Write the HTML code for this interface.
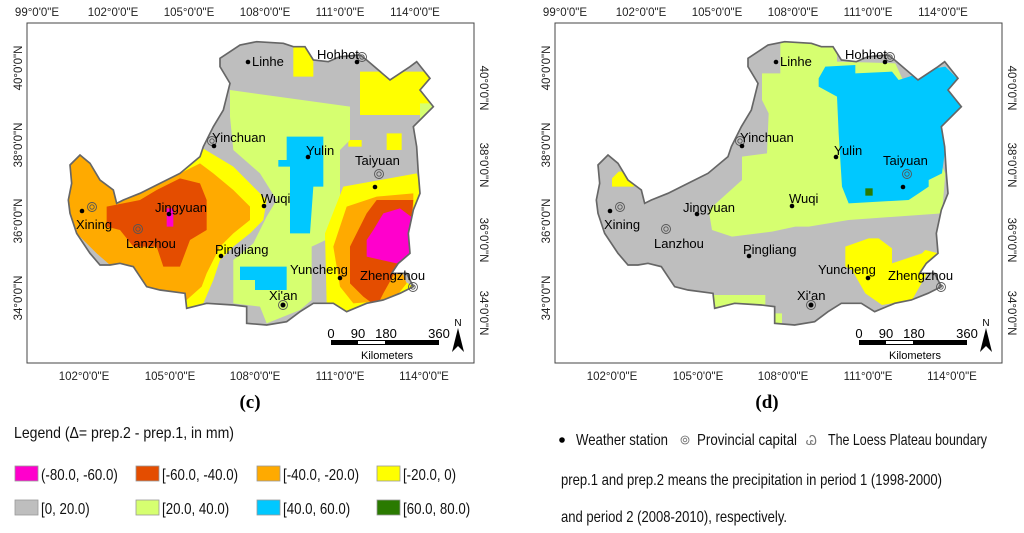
<!DOCTYPE html>
<html><head><meta charset="utf-8">
<style>
html,body{margin:0;padding:0;background:#fff;}
svg{display:block;font-family:"Liberation Sans",Arial,sans-serif;}
.tick{font-size:11.5px;fill:#222;}
.lbl{font-size:13px;fill:#000;}
.leg{font-size:16px;fill:#111;}
</style></head>
<body>
<svg id="fig" width="1024" height="533" viewBox="0 0 1024 533">
<defs>
  <clipPath id="cb1"><polygon id="bnd" points="660,175 720,135 770,125 850,130 880,140 915,140 940,180 985,185 1020,170 1080,165 1100,180 1170,240 1230,200 1250,185 1290,235 1260,270 1300,320 1240,380 1250,440 1255,520 1260,580 1240,630 1225,700 1230,760 1195,790 1175,820 1220,820 1240,860 1200,880 1150,900 1100,910 1040,935 1000,910 940,910 900,935 860,965 800,975 740,970 740,920 700,915 620,910 560,925 555,880 480,870 440,860 400,800 360,790 330,795 300,795 270,760 230,700 210,640 205,600 215,550 210,495 240,465 270,490 300,540 340,570 350,610 370,600 420,580 470,555 540,520 600,470 610,440 640,380 670,330 680,290 690,250 660,200"/></clipPath>
</defs>

<g>
  <rect x="27" y="23" width="447" height="340" fill="#fff" stroke="#444" stroke-width="1"/>
  <g transform="scale(0.33333)">
    <g clip-path="url(#cb1)">
      <rect x="150" y="100" width="1200" height="900" fill="#bebebe"/>
      <polygon fill="#ffff00" points="880,130 940,130 940,230 880,230"/>
      <polygon fill="#ffff00" points="1080,215 1300,215 1300,345 1080,345"/>
      <polygon fill="#ffff00" points="1045,420 1085,420 1085,440 1045,440"/>
      <polygon fill="#ffff00" points="1160,400 1205,400 1205,450 1160,450"/>
      <polygon fill="#d6ff70" points="690,270 1050,320 1050,420 1020,450 1020,700 935,740 935,900 900,930 800,970 780,920 700,910 700,780 760,730 800,650 830,600 780,520 700,450 690,350"/>
      <polygon fill="#d6ff70" points="1260,310 1300,310 1300,380 1260,380"/>
      <polygon fill="#00c8ff" points="860,410 970,410 970,560 940,560 930,700 870,700 870,500 835,500 835,480 860,480"/>
      <polygon fill="#00c8ff" points="720,800 860,800 860,870 765,870 765,840 720,840"/>
      <polygon fill="#ffff00" points="600,440 700,500 800,600 790,660 750,700 700,740 660,780 640,840 610,910 560,925 500,900 300,700 200,600 200,470"/>
      <polygon fill="#ffaa00" points="210,470 250,465 300,540 340,570 420,575 540,520 600,490 640,520 700,570 750,620 750,660 700,700 660,740 620,820 605,860 560,900 500,880 440,860 400,800 330,795 290,760 230,700 210,640 205,600"/>
      <polygon fill="#e44d00" points="320,620 420,600 470,570 540,535 600,550 620,600 620,690 570,720 540,800 490,800 470,740 400,740 360,690 320,680"/>
      <polygon fill="#ff00cc" points="500,625 520,625 520,680 500,680"/>
      <polygon fill="#ffff00" points="975,700 1030,560 1250,520 1270,580 1240,640 1230,760 1175,820 1240,860 1150,900 1040,935 980,910"/>
      <polygon fill="#ffaa00" points="1000,740 1040,620 1130,590 1240,580 1240,660 1200,800 1220,850 1180,900 1060,910 1020,860"/>
      <polygon fill="#e44d00" points="1050,740 1100,640 1130,600 1240,600 1230,700 1200,790 1150,880 1130,920 1090,890 1050,850"/>
      <polygon fill="#ff00cc" points="1120,690 1150,640 1200,625 1240,655 1235,760 1190,790 1100,770 1100,720"/>
    </g>
    <use href="#bnd" fill="none" stroke="#666" stroke-width="5"/>
  </g>
  <g id="stC"></g>
  <g class="tick" text-anchor="middle">
    <text x="37" y="16">99°0'0"E</text><text x="113" y="16">102°0'0"E</text><text x="189" y="16">105°0'0"E</text><text x="265" y="16">108°0'0"E</text><text x="340" y="16">111°0'0"E</text><text x="415" y="16">114°0'0"E</text>
    <text x="84" y="380">102°0'0"E</text><text x="170" y="380">105°0'0"E</text><text x="255" y="380">108°0'0"E</text><text x="340" y="380">111°0'0"E</text><text x="424" y="380">114°0'0"E</text>
    <text transform="translate(22,68) rotate(-90)">40°0'0"N</text><text transform="translate(22,145) rotate(-90)">38°0'0"N</text><text transform="translate(22,221) rotate(-90)">36°0'0"N</text><text transform="translate(22,298) rotate(-90)">34°0'0"N</text>
    <text transform="translate(480,88) rotate(90)">40°0'0"N</text><text transform="translate(480,165) rotate(90)">38°0'0"N</text><text transform="translate(480,240) rotate(90)">36°0'0"N</text><text transform="translate(480,313) rotate(90)">34°0'0"N</text>
  </g>
  <g transform="translate(331,0)">
    <text class="lbl" x="0" y="338" text-anchor="middle">0</text><text class="lbl" x="27" y="338" text-anchor="middle">90</text><text class="lbl" x="55" y="338" text-anchor="middle">180</text><text class="lbl" x="108" y="338" text-anchor="middle">360</text>
    <rect x="0" y="340" width="108" height="5" fill="#000"/><rect x="27" y="341" width="27" height="3" fill="#fff"/>
    <text class="lbl" x="56" y="359" text-anchor="middle" style="font-size:11px">Kilometers</text>
    <text x="127" y="326" style="font-size:10px" text-anchor="middle">N</text>
    <polygon points="127,328 121,352 127,346 133,352" fill="#000"/>
  </g>
  <text x="250" y="408" text-anchor="middle" style="font-family:'Liberation Serif',serif;font-size:19px;font-weight:bold">(c)</text>
</g>

<g>
  <rect x="555" y="23" width="447" height="340" fill="#fff" stroke="#444" stroke-width="1"/>
  <g transform="translate(528,0) scale(0.33333)">
    <g clip-path="url(#cb1)">
      <rect x="150" y="100" width="1200" height="900" fill="#bebebe"/>
      <g transform="translate(-48,0)">
        <polygon fill="#d6ff70" points="805,120 975,120 975,185 1150,190 1300,520 1290,640 1010,660 890,680 850,680 780,695 660,710 600,690 590,630 690,540 690,470 765,460 770,340 750,300 750,220 805,220"/>
        <polygon fill="#00c8ff" points="920,235 940,200 1030,195 1030,220 1140,215 1160,240 1270,205 1300,200 1340,240 1350,330 1310,370 1290,520 1250,540 1250,560 1220,580 1190,600 1010,610 990,560 980,400 975,290 920,260"/>
        <rect x="1060" y="565" width="22" height="22" fill="#2a7a00"/>
        <polygon fill="#ffff00" points="1000,740 1070,715 1100,715 1140,745 1140,790 1230,760 1240,750 1280,760 1240,830 1200,900 1110,915 1060,880 1020,810 1000,800"/>
        <polygon fill="#ffff00" points="300,535 320,515 365,515 365,560 300,560"/>
        <polygon fill="#d6ff70" points="600,885 760,885 760,920 690,935 600,930"/>
        <polygon fill="#d6ff70" points="790,940 810,940 810,975 790,975"/>
      </g>
    </g>
    <use href="#bnd" fill="none" stroke="#666" stroke-width="5"/>
  </g>
  <g id="stD" transform="translate(528,0)"></g>
  <g class="tick" text-anchor="middle" transform="translate(528,0)">
    <text x="37" y="16">99°0'0"E</text><text x="113" y="16">102°0'0"E</text><text x="189" y="16">105°0'0"E</text><text x="265" y="16">108°0'0"E</text><text x="340" y="16">111°0'0"E</text><text x="415" y="16">114°0'0"E</text>
    <text x="84" y="380">102°0'0"E</text><text x="170" y="380">105°0'0"E</text><text x="255" y="380">108°0'0"E</text><text x="340" y="380">111°0'0"E</text><text x="424" y="380">114°0'0"E</text>
    <text transform="translate(22,68) rotate(-90)">40°0'0"N</text><text transform="translate(22,145) rotate(-90)">38°0'0"N</text><text transform="translate(22,221) rotate(-90)">36°0'0"N</text><text transform="translate(22,298) rotate(-90)">34°0'0"N</text>
    <text transform="translate(480,88) rotate(90)">40°0'0"N</text><text transform="translate(480,165) rotate(90)">38°0'0"N</text><text transform="translate(480,240) rotate(90)">36°0'0"N</text><text transform="translate(480,313) rotate(90)">34°0'0"N</text>
  </g>
  <g transform="translate(859,0)">
    <text class="lbl" x="0" y="338" text-anchor="middle">0</text><text class="lbl" x="27" y="338" text-anchor="middle">90</text><text class="lbl" x="55" y="338" text-anchor="middle">180</text><text class="lbl" x="108" y="338" text-anchor="middle">360</text>
    <rect x="0" y="340" width="108" height="5" fill="#000"/><rect x="27" y="341" width="27" height="3" fill="#fff"/>
    <text class="lbl" x="56" y="359" text-anchor="middle" style="font-size:11px">Kilometers</text>
    <text x="127" y="326" style="font-size:10px" text-anchor="middle">N</text>
    <polygon points="127,328 121,352 127,346 133,352" fill="#000"/>
  </g>
  <text x="767" y="408" text-anchor="middle" style="font-family:'Liberation Serif',serif;font-size:19px;font-weight:bold">(d)</text>
</g>

<g class="leg">
  <text x="14" y="438" textLength="220" lengthAdjust="spacingAndGlyphs">Legend   (Δ= prep.2 - prep.1, in mm)</text>
  <g id="legItems"></g>
</g>
<g class="leg">
  <circle cx="562" cy="440" r="2.8" fill="#000"/>
  <text x="576" y="445" textLength="92" lengthAdjust="spacingAndGlyphs">Weather station</text>
  <circle cx="685" cy="440" r="4" fill="none" stroke="#666" stroke-width="0.8"/><circle cx="685" cy="440" r="1.8" fill="none" stroke="#666" stroke-width="0.8"/>
  <text x="697" y="445" textLength="100" lengthAdjust="spacingAndGlyphs">Provincial capital</text>
  <text x="806" y="445" style="font-size:13px;fill:#777">Ꮚ</text>
  <text x="828" y="445" textLength="159" lengthAdjust="spacingAndGlyphs">The Loess Plateau boundary</text>
  <text x="561" y="485" textLength="381" lengthAdjust="spacingAndGlyphs">prep.1 and prep.2 means the precipitation in period 1 (1998-2000)</text>
  <text x="561" y="522" textLength="226" lengthAdjust="spacingAndGlyphs">and period 2 (2008-2010), respectively.</text>
</g>
</svg>
<script>
const legendLabels = ["(-80.0, -60.0)","[-60.0, -40.0)","[-40.0, -20.0)","[-20.0, 0)","[0, 20.0)","[20.0, 40.0)","[40.0, 60.0)","[60.0, 80.0)"];
const legendColors = ["#ff00cc","#e44d00","#ffaa00","#ffff00","#bebebe","#d6ff70","#00c8ff","#2a7a00"];
const stationNames = ["Linhe","Hohhot","Yinchuan","Yulin","Taiyuan","Wuqi","Jingyuan","Xining","Lanzhou","Pingliang","Yuncheng","Xi'an","Zhengzhou"];
const stationDotX = [248,357,214,308,375,264,169,82,null,221,340,283,null];
const stationDotY = [62,62,146,157,187,206,214,211,null,256,278,305,null];
const capitalX = [null,362,212,null,379,null,null,92,138,null,null,283,413];
const capitalY = [null,57,141,null,174,null,null,207,229,null,null,305,287];
const labelX = [252,317,212,306,355,261,155,76,126,215,290,269,360];
const labelY = [66,59,142,155,165,203,212,229,248,254,274,300,280];
const NS = "http://www.w3.org/2000/svg";
function drawStations(g){
  for(let i=0;i<stationNames.length;i++){
    if(capitalX[i]!==null){
      const c1=document.createElementNS(NS,"circle");
      
      
      c1.setAttribute("cx",capitalX[i]);c1.setAttribute("cy",capitalY[i]);c1.setAttribute("r",4.5);
      c1.setAttribute("fill","none");c1.setAttribute("stroke","#555");c1.setAttribute("stroke-width","0.9");g.appendChild(c1);
      const c2=document.createElementNS(NS,"circle");
      
      
      c2.setAttribute("cx",capitalX[i]);c2.setAttribute("cy",capitalY[i]);c2.setAttribute("r",2.2);
      c2.setAttribute("fill","none");c2.setAttribute("stroke","#555");c2.setAttribute("stroke-width","0.9");g.appendChild(c2);
    }
    if(stationDotX[i]!==null){
      const d=document.createElementNS(NS,"circle");
      
      
      d.setAttribute("cx",stationDotX[i]);d.setAttribute("cy",stationDotY[i]);d.setAttribute("r",2.3);d.setAttribute("fill","#000");g.appendChild(d);
    }
    const t=document.createElementNS(NS,"text");
    
    
    t.setAttribute("x",labelX[i]);t.setAttribute("y",labelY[i]);t.setAttribute("class","lbl");
    t.textContent=stationNames[i];g.appendChild(t);
  }
}
drawStations(document.getElementById("stC"));
drawStations(document.getElementById("stD"));
const lg=document.getElementById("legItems");
const colX=[15,136,257,377];
for(let i=0;i<legendLabels.length;i++){
  const x=colX[i%4], y=i<4?466:500;
  const r=document.createElementNS(NS,"rect");
  
  
  r.setAttribute("x",x);r.setAttribute("y",y);r.setAttribute("width",23);r.setAttribute("height",15);
  r.setAttribute("fill",legendColors[i]);r.setAttribute("stroke","#999");r.setAttribute("stroke-width","0.8");lg.appendChild(r);
  const t=document.createElementNS(NS,"text");
  
  
  t.setAttribute("x",x+26);t.setAttribute("y",y+14);t.textContent=legendLabels[i];lg.appendChild(t);
  const w=t.getComputedTextLength();
  if(w>0){t.setAttribute("textLength",(w*0.83).toFixed(1));t.setAttribute("lengthAdjust","spacingAndGlyphs");}
}
</script>
</body></html>
